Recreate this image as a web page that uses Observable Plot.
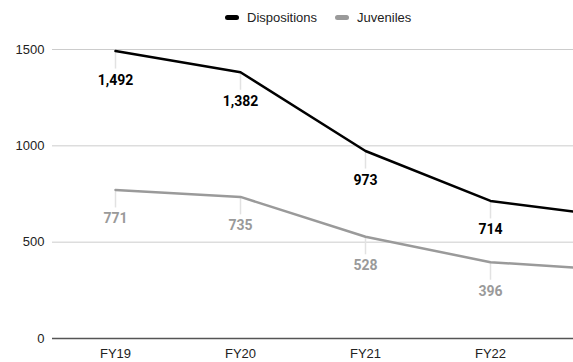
<!DOCTYPE html>
<html>
<head>
<meta charset="utf-8">
<script src="https://cdn.jsdelivr.net/npm/d3@7"></script>
<script src="https://cdn.jsdelivr.net/npm/@observablehq/plot@0.6"></script>
<style>
  body { margin: 0; background: #fff; font-family: "Liberation Sans", Arial, sans-serif; }
  #legend { height: 33px; display: flex; align-items: center; padding-left: 225px; padding-top: 1px; box-sizing: border-box; font-size: 13px; color: #222; }
  .item { display: flex; align-items: center; margin-right: 18px; }
  .sw { width: 14px; height: 5px; border-radius: 2.5px; margin-right: 8px; }
</style>
</head>
<body>
<div id="legend"></div>
<div id="chart"></div>
<script>
// Fiscal years on the x axis; the last one runs past the right edge of the frame.
const categories = ["FY19", "FY20", "FY21", "FY22", "FY23"];
const tickLabels = ["FY19", "FY20", "FY21", "FY22"];
const dispositions = [1492, 1382, 973, 714, 631];
const juveniles = [771, 735, 528, 396, 354];
const yTicks = [0, 500, 1000, 1500];
const seriesNames = ["Dispositions", "Juveniles"];
const seriesColors = ["#000000", "#9a9a9a"];

const rows = categories.flatMap((c, i) => [
  {cat: c, series: "Dispositions", value: dispositions[i]},
  {cat: c, series: "Juveniles", value: juveniles[i]}
]);
const labelled = rows.filter(d => tickLabels.includes(d.cat));

// Legend row above the chart
const legend = document.getElementById("legend");
seriesNames.forEach((name, i) => {
  const item = document.createElement("div");
  item.className = "item";
  const sw = document.createElement("span");
  sw.className = "sw";
  sw.style.background = seriesColors[i];
  const label = document.createElement("span");
  label.textContent = name;
  item.append(sw, label);
  legend.append(item);
});

const chart = Plot.plot({
  width: 573,
  height: 329,
  marginLeft: 52,
  marginRight: 0,
  marginTop: 16,
  marginBottom: 24,
  style: {fontFamily: "'Liberation Sans', Arial, sans-serif", fontSize: "13px", color: "#222", background: "#fff"},
  x: {type: "point", domain: categories, range: [115, 615], padding: 0, ticks: tickLabels, label: null, tickSize: 0, tickPadding: 10},
  y: {domain: [0, 1500], ticks: yTicks, tickFormat: d => String(d), label: null, tickSize: 0, tickPadding: 8},
  color: {domain: seriesNames, range: seriesColors},
  marks: [
    Plot.ruleY(yTicks.filter(v => v > 0), {stroke: "#cccccc", strokeOpacity: 1}),
    Plot.ruleX(labelled, {x: "cat", y1: "value", y2: "value", insetBottom: -18, stroke: "#e2e2e2", strokeWidth: 1.5}),
    Plot.ruleY([0], {stroke: "#555", strokeWidth: 1.5}),
    Plot.line(rows, {x: "cat", y: "value", z: "series", stroke: "series", strokeWidth: 2.5, clip: true}),
    Plot.text(labelled, {
      x: "cat", y: "value", dy: 29,
      text: d => d3.format(",")(d.value),
      fill: "series", fontWeight: "bold", fontSize: 14, fontFamily: "Roboto, sans-serif"
    })
  ]
});
document.getElementById("chart").append(chart);
</script>
</body>
</html>
